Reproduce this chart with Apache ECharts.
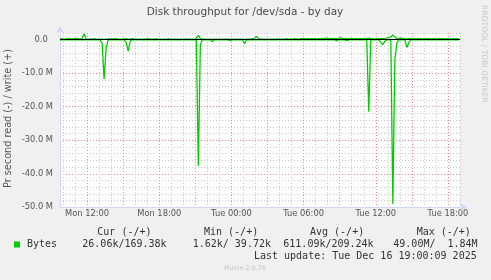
<!DOCTYPE html>
<html>
<head>
<meta charset="utf-8">
<script src="https://cdn.jsdelivr.net/npm/echarts@6/dist/echarts.min.js"></script>
<style>html,body{margin:0;padding:0;background:#F0F0F0;}#c{width:491px;height:280px;}</style>
</head>
<body>
<div id="c"></div>
<script>
// ---- data (MB/s), 10-minute samples starting Mon 09:45 ----
var startHour = 9.75;          // hours since Mon 00:00
var stepHours = 1 / 6;         // 10 minutes
var writeMB = [
  0.2,0.3,0.2,0.25,0.35,0.3,0.2,0.3,0.4,0.3,
  0.25,0.35,1.8,0.3,0.1,0.25,0.2,0.3,0.2,0.15,
  0.2,0.15,0.1,0.2,0.25,0.3,0.2,0.35,0.3,0.2,
  0.2,0.15,0.25,0.3,0.2,0.15,0.3,0.25,0.2,0.2,
  0.15,0.2,0.2,0.25,0.3,0.2,0.15,0.2,0.25,0.2,
  0.2,0.2,0.15,0.2,0.3,0.2,0.2,0.15,0.2,0.2,
  0.2,0.15,0.2,0.25,0.2,0.2,0.15,0.2,0.3,1.3,
  0.3,0.2,0.15,0.2,0.2,0.15,0.1,0.2,0.2,0.15,
  0.2,0.2,0.15,0.2,0.2,0.15,0.2,0.2,0.2,0.15,
  0.2,0.15,0.1,0.2,0.2,0.15,0.3,0.4,1.0,0.3,
  0.2,0.15,0.2,0.2,0.15,0.2,0.2,0.15,0.2,0.25,
  0.2,0.15,0.2,0.3,0.2,0.25,0.2,0.3,0.25,0.2,
  0.3,0.35,0.3,0.25,0.3,0.35,0.3,0.3,0.25,0.3,
  0.35,0.3,0.4,0.5,0.35,0.3,0.4,0.35,0.3,0.4,
  0.6,0.35,0.3,0.3,0.25,0.4,0.3,0.35,0.3,0.3,
  0.3,0.35,0.3,0.4,0.5,0.3,0.3,0.25,0.3,0.35,
  0.3,0.3,0.35,0.5,0.6,0.8,1.4,0.9,0.3,0.4,
  0.5,0.4,0.3,0.25,0.3,0.35,0.3,0.25,0.3,0.3,
  0.3,0.25,0.3,0.35,0.3,0.25,0.3,0.3,0.25,0.3,
  0.3,0.3,0.25,0.3,0.3,0.25,0.3,0.3,0.3,0.25
];
var readMB = [
  0.03,0.03,0.03,0.03,0.03,0.03,0.03,0.03,0.03,0.03,
  0.03,0.03,0.03,0.03,0.03,0.03,0.03,0.03,0.03,0.03,
  0.03,1.0,11.7,2.5,0.03,0.03,0.03,0.03,0.03,0.03,
  0.03,0.03,0.03,0.8,3.4,0.5,0.03,0.03,0.03,0.03,
  0.03,0.03,0.03,0.03,0.03,0.03,0.03,0.03,0.03,0.03,
  0.03,0.03,0.03,0.03,0.03,0.03,0.03,0.03,0.03,0.03,
  0.03,0.03,0.03,0.03,0.03,0.03,0.03,0.03,0.03,37.6,
  1.5,0.03,0.03,0.03,0.03,0.03,0.6,0.03,0.03,0.03,
  0.03,0.03,0.03,0.03,0.03,0.3,0.03,0.03,0.03,0.03,
  0.03,0.03,1.2,0.03,0.03,0.03,0.03,0.03,0.03,0.03,
  0.03,0.03,0.03,0.03,0.03,0.03,0.03,0.03,0.03,0.03,
  0.03,0.03,0.03,0.03,0.03,0.03,0.03,0.03,0.03,0.03,
  0.03,0.03,0.03,0.03,0.03,0.03,0.03,0.03,0.03,0.03,
  0.03,0.03,0.03,0.03,0.03,0.03,0.03,0.03,0.4,0.03,
  0.03,0.03,0.03,0.3,0.03,0.03,0.03,0.03,0.03,0.03,
  0.03,0.03,0.03,0.03,21.5,0.03,0.03,0.03,0.03,0.03,
  0.8,1.5,0.5,0.03,0.03,0.03,49.0,6.0,1.0,0.03,
  0.03,0.03,0.03,2.3,0.8,0.03,0.03,0.03,0.03,0.03,
  0.03,0.03,0.03,0.03,0.03,0.03,0.03,0.03,0.03,0.03,
  0.03,0.03,0.03,0.03,0.03,0.03,0.03,0.03,0.03,0.03
];
var dayNames = ['Mon', 'Tue'];
var xLabelHours = [12, 18, 24, 30, 36, 42];
var statHeaders = ['Cur (-/+)', 'Min (-/+)', 'Avg (-/+)', 'Max (-/+)'];
var statValues = ['26.06k/169.38k', '1.62k/ 39.72k', '611.09k/209.24k', '49.00M/  1.84M'];
var seriesName = 'Bytes';
var titleText = 'Disk throughput for /dev/sda - by day';
var yTitle = 'Pr second read (-) / write (+)';
var lastUpdate = 'Last update: Tue Dec 16 19:00:09 2025';

// ---- build series ----
var writeData = writeMB.map(function (v, i) { return [startHour + i * stepHours, v]; });
var readData = readMB.map(function (v, i) { return [startHour + i * stepHours, -v]; });

var GRIDC = '#C9C9C9', MGRIDC = '#EC8C8C', T = 'rgba(0,0,0,0)';
var chart = echarts.init(document.getElementById('c'), null, {renderer: 'canvas'});
var headerX = [97.3, 204, 310, 416.7];
var valueX = [82.3, 192.7, 283.3, 393.3];
var graphics = [
  {type: 'text', x: 245, y: 12, style: {text: titleText, font: '10.5px "DejaVu Sans"', fill: '#4A4A4A', align: 'center', verticalAlign: 'middle', textAlign: 'center', textVerticalAlign: 'middle'}},
  {type: 'text', x: 8.7, y: 118.5, rotation: Math.PI / 2, style: {text: yTitle, font: '9.7px "DejaVu Sans"', fill: '#555', align: 'center', verticalAlign: 'middle', textAlign: 'center', textVerticalAlign: 'middle'}},
  {type: 'text', x: 483.5, y: 54, rotation: -Math.PI / 2, style: {text: 'RRDTOOL / TOBI OETIKER', font: '7.6px "DejaVu Sans"', fill: '#C8C8C8', align: 'center', verticalAlign: 'middle', textAlign: 'center', textVerticalAlign: 'middle'}},
  {type: 'text', x: 476.7, y: 256.7, style: {text: lastUpdate, font: '10px "DejaVu Sans Mono"', fill: '#333', align: 'right', verticalAlign: 'middle', textAlign: 'right', textVerticalAlign: 'middle'}},
  {type: 'text', x: 245, y: 268.3, style: {text: 'Munin 2.0.76', font: '6.4px "DejaVu Sans"', fill: '#C4C4C4', align: 'center', verticalAlign: 'middle', textAlign: 'center', textVerticalAlign: 'middle'}}
];
statHeaders.forEach(function (t, k) {
  graphics.push({type: 'text', x: headerX[k], y: 232.3, style: {text: t, font: '10px "DejaVu Sans Mono"', fill: '#333', align: 'left', verticalAlign: 'middle', textAlign: 'left', textVerticalAlign: 'middle'}});
});
statValues.forEach(function (t, k) {
  graphics.push({type: 'text', x: valueX[k], y: 244.7, style: {text: t, font: '10px "DejaVu Sans Mono"', fill: '#333', align: 'left', verticalAlign: 'middle', textAlign: 'left', textVerticalAlign: 'middle'}});
});

chart.setOption({
  backgroundColor: '#F0F0F0',
  animation: false,
  grid: {left: 60, top: 33, width: 400, height: 174.3, show: true, backgroundColor: '#FFFFFF', borderWidth: 0},
  legend: {
    data: [{name: seriesName, icon: 'rect'}],
    left: 14, top: 239.5, padding: 0, itemWidth: 6, itemHeight: 6,
    textStyle: {fontFamily: 'DejaVu Sans Mono', fontSize: 10, color: '#333', padding: [0, 0, 0, 2]}
  },
  xAxis: {
    type: 'value', min: 9.75, max: 43, interval: 0.25,
    axisLine: {onZero: false, show: true, lineStyle: {color: '#CFD6F8', width: 1}, symbol: ['none', 'arrow'], symbolSize: [6, 7], symbolOffset: [0, 7]},
    axisTick: {show: false},
    splitLine: {show: true, lineStyle: {color: [T, GRIDC, T, T, T, GRIDC, T, T, T, MGRIDC, T, T], type: [1, 2], width: 1}},
    axisLabel: {
      margin: 3, color: '#555', fontFamily: 'DejaVu Sans', fontSize: 8.3,
      showMinLabel: true, showMaxLabel: true,
      formatter: function (v) {
        var h = Math.round(v);
        if (Math.abs(v - h) > 1e-6 || xLabelHours.indexOf(h) < 0) return '';
        var hh = h % 24;
        return dayNames[Math.floor(h / 24)] + ' ' + (hh < 10 ? '0' : '') + hh + ':00';
      }
    }
  },
  yAxis: {
    type: 'value', min: -50, max: 2, interval: 2,
    axisLine: {show: true, lineStyle: {color: '#CFD6F8', width: 1}, symbol: ['none', 'arrow'], symbolSize: [6, 7], symbolOffset: [0, 7]},
    axisTick: {show: false},
    splitLine: {show: true, lineStyle: {color: [MGRIDC, GRIDC, GRIDC, GRIDC, GRIDC], type: [1, 2], width: 1}},
    axisLabel: {
      margin: 7, color: '#555', fontFamily: 'DejaVu Sans', fontSize: 8.3,
      formatter: function (v) {
        if (Math.abs(v % 10) > 1e-6) return '';
        if (v === 0) return '0.0  ';
        return v.toFixed(1) + ' M';
      }
    }
  },
  series: [
    {name: seriesName, type: 'line', data: readData, showSymbol: false, symbol: 'none', lineStyle: {color: '#00CC00', width: 1.3}, itemStyle: {color: '#00CC00'}, z: 3},
    {name: seriesName, type: 'line', data: writeData, showSymbol: false, symbol: 'none', lineStyle: {color: '#00CC00', width: 1.3}, itemStyle: {color: '#00CC00'}, z: 4,
      markLine: {silent: true, symbol: ['none', 'none'], label: {show: false}, lineStyle: {color: '#000000', width: 1.2, type: 'solid'}, data: [{yAxis: 0}], z: 5}}
  ],
  graphic: graphics
});
</script>
</body>
</html>
